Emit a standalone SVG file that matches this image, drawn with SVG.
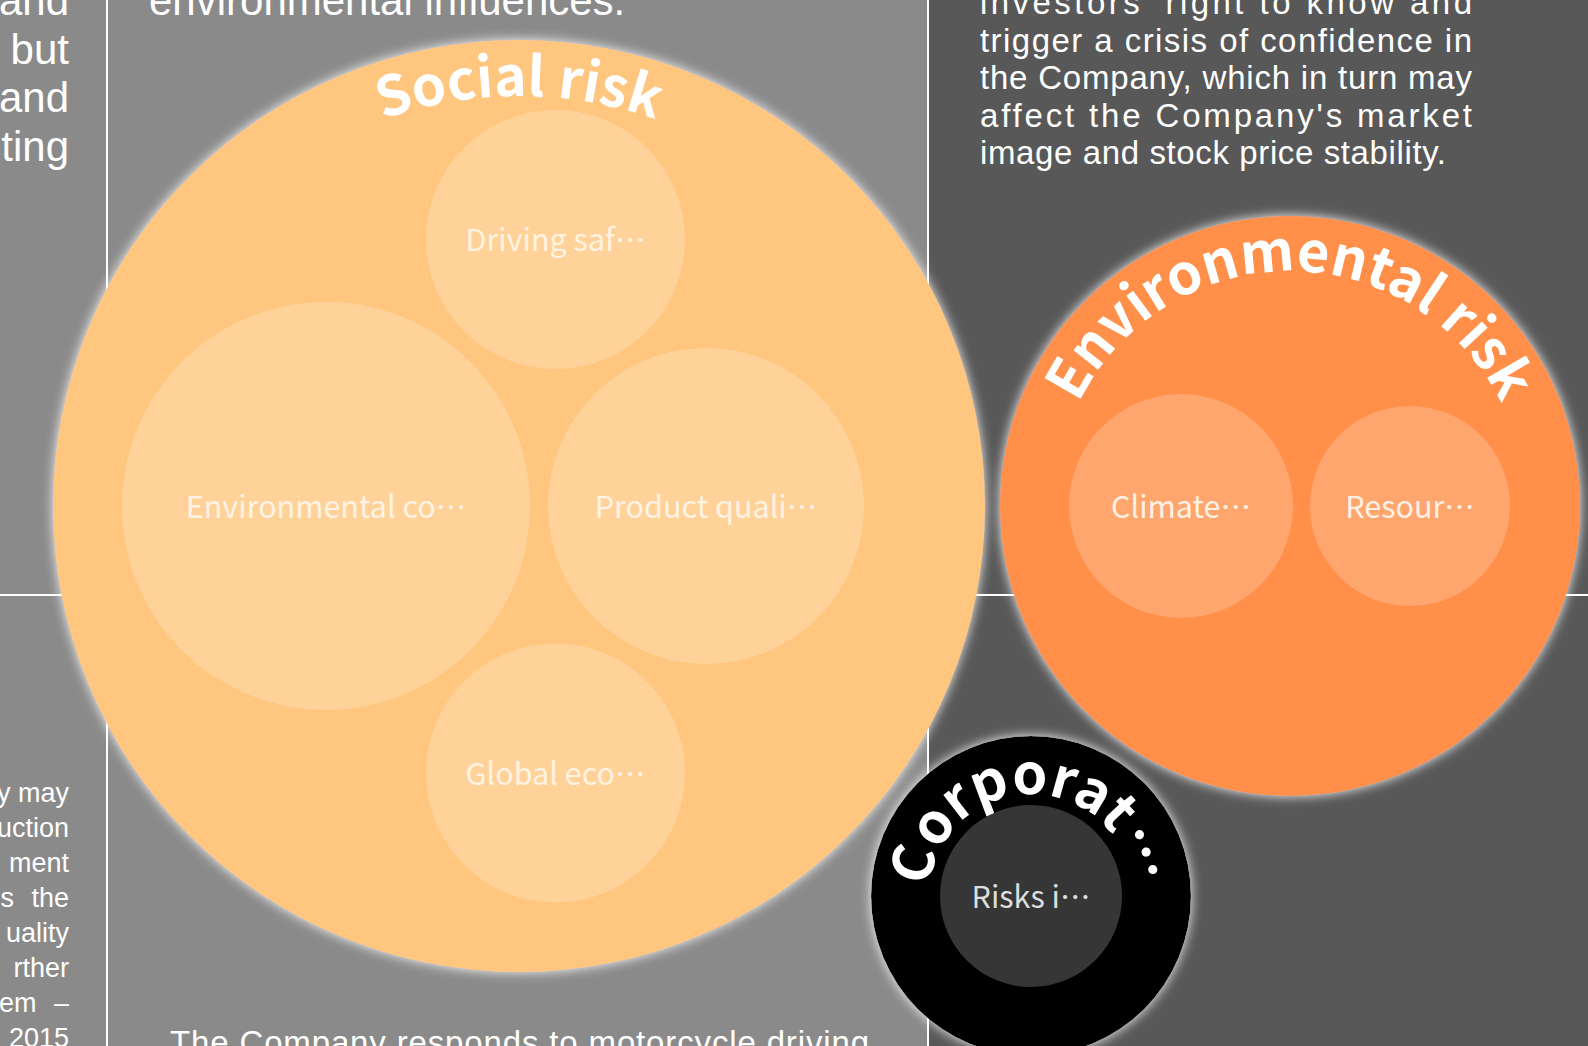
<svg xmlns="http://www.w3.org/2000/svg" width="1588" height="1046" viewBox="0 0 1588 1046">
<style>
.para{font-family:"Liberation Sans",Arial,sans-serif;fill:#ffffff}
.p42{font-size:42px}
.p33{font-size:33px}
.p25{font-size:27px}
.lbl{font-family:"Noto Sans CJK SC","Noto Sans",sans-serif;font-size:30.5px;text-anchor:middle}
.title{font-family:"Noto Sans CJK SC","Noto Sans",sans-serif;font-weight:700;fill:#ffffff}
.ell{font-family:"Noto Sans CJK TC","Noto Sans CJK SC",sans-serif;font-feature-settings:"fwid" 1}
.grid{stroke:#ffffff;stroke-width:2;fill:none}
.inS{fill:#FFD299}
.inE{fill:#FFA66E}
.tS{fill:#FFF3E3}
.tE{fill:#FFF1E6}
</style>
<defs>
<filter id="glow" x="-10%" y="-10%" width="120%" height="120%">
<feDropShadow dx="0" dy="0" stdDeviation="6" flood-color="#ffffff" flood-opacity="0.95"/>
</filter>
<path id="arcSocial" d="M 109 506 A 410 410 0 0 1 929 506"/>
<path id="arcEnv" d="M 1055 506 A 235 235 0 0 1 1525 506"/>
<path id="arcCorp" d="M 929 896 A 102 102 0 0 1 1133 896"/>
</defs>

<g id="background">
<rect x="0" y="0" width="928" height="1046" fill="#8a8a8a"/>
<rect x="928" y="0" width="660" height="1046" fill="#585858"/>
<line class="grid" x1="107" y1="0" x2="107" y2="1046"/>
<line class="grid" x1="928" y1="0" x2="928" y2="1046"/>
<line class="grid" x1="0" y1="595" x2="1588" y2="595"/>
</g>

<g id="texts">
<g class="para p42" text-anchor="end">
<text x="69" y="15">and</text>
<text x="69" y="64">but</text>
<text x="69" y="112">and</text>
<text x="69" y="161">ting</text>
</g>
<text class="para p42" x="149" y="15">environmental influences.</text>
<g class="para p25" text-anchor="end">
<text x="69" y="802">y may</text>
<text x="69" y="837">uction</text>
<text x="69" y="872">ment</text>
<text x="69" y="907" word-spacing="10">s the</text>
<text x="69" y="942">uality</text>
<text x="69" y="977">rther</text>
<text x="69" y="1012" word-spacing="10">em –</text>
<text x="69" y="1047">2015</text>
</g>
<g class="para p33">
<text x="980" y="14" textLength="492" lengthAdjust="spacing">investors' right to know and</text>
<text x="980" y="51.5" textLength="492" lengthAdjust="spacing">trigger a crisis of confidence in</text>
<text x="980" y="89" textLength="492" lengthAdjust="spacing">the Company, which in turn may</text>
<text x="980" y="126.5" textLength="492" lengthAdjust="spacing">affect the Company's market</text>
<text x="980" y="163.5" textLength="466" lengthAdjust="spacing">image and stock price stability.</text>
<text x="170" y="1054" textLength="699" lengthAdjust="spacing">The Company responds to motorcycle driving</text>
</g>
</g>

<g id="connectors"></g>

<g id="node-social">
<circle cx="519" cy="506" r="466" fill="#FFC680" filter="url(#glow)"/>
<text class="title" font-size="55"><textPath href="#arcSocial" startOffset="50%" text-anchor="middle">Social risk</textPath></text>
</g>
<g id="node-driving">
<circle class="inS" cx="555.5" cy="239.5" r="129.5"/>
<text class="lbl tS" x="555.5" y="251">Driving saf<tspan class="ell" xml:lang="zh-TW">…</tspan></text>
</g>
<g id="node-envcomp">
<circle class="inS" cx="326" cy="506" r="204"/>
<text class="lbl tS" x="326" y="518">Environmental co<tspan class="ell" xml:lang="zh-TW">…</tspan></text>
</g>
<g id="node-product">
<circle class="inS" cx="706" cy="506" r="158"/>
<text class="lbl tS" x="706" y="518">Product quali<tspan class="ell" xml:lang="zh-TW">…</tspan></text>
</g>
<g id="node-global">
<circle class="inS" cx="555.5" cy="773" r="129.5"/>
<text class="lbl tS" x="555.5" y="785">Global eco<tspan class="ell" xml:lang="zh-TW">…</tspan></text>
</g>

<g id="node-environmental">
<circle cx="1290" cy="506" r="290" fill="#FF8F4A" filter="url(#glow)"/>
<text class="title" font-size="56"><textPath href="#arcEnv" startOffset="50%" text-anchor="middle">Environmental risk</textPath></text>
</g>
<g id="node-climate">
<circle class="inE" cx="1181" cy="506" r="112"/>
<text class="lbl tE" x="1181" y="518">Climate<tspan class="ell" xml:lang="zh-TW">…</tspan></text>
</g>
<g id="node-resource">
<circle class="inE" cx="1410" cy="506" r="100"/>
<text class="lbl tE" x="1410" y="518">Resour<tspan class="ell" xml:lang="zh-TW">…</tspan></text>
</g>

<g id="node-corporate">
<circle cx="1031" cy="896" r="160" fill="#000000" filter="url(#glow)"/>
<text class="title" font-size="56"><textPath href="#arcCorp" startOffset="50%" text-anchor="middle">Corporat<tspan class="ell" xml:lang="zh-TW">…</tspan></textPath></text>
</g>
<g id="node-risks">
<circle cx="1031" cy="896" r="91" fill="#363636"/>
<text class="lbl" x="1031" y="908" fill="#dddddd">Risks i<tspan class="ell" xml:lang="zh-TW">…</tspan></text>
</g>
</svg>
